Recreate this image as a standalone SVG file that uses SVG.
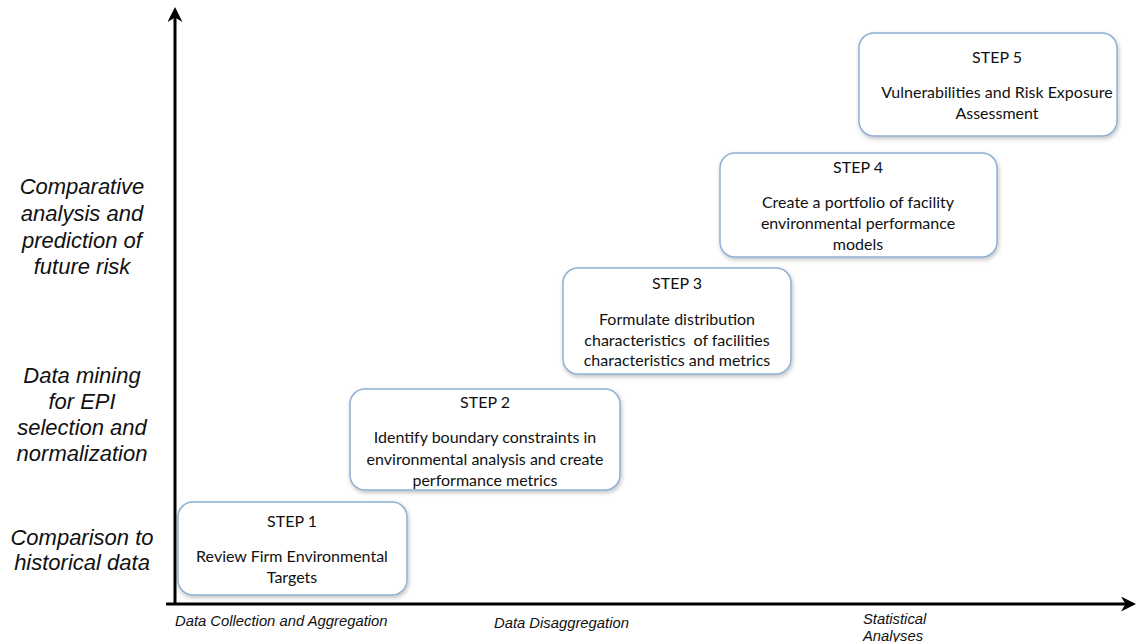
<svg xmlns="http://www.w3.org/2000/svg" width="1139" height="642" viewBox="0 0 1139 642">
  <defs>
    <marker id="arrow" viewBox="0 0 10 10" refX="8" refY="5" markerWidth="5" markerHeight="5" orient="auto" markerUnits="strokeWidth">
      <path d="M0,0 L10,5 L0,10 L3,5 z" fill="#000"/>
    </marker>
    <filter id="shadow" x="-10%" y="-10%" width="120%" height="130%">
      <feDropShadow dx="1" dy="2" stdDeviation="2" flood-color="#000" flood-opacity="0.25"/>
    </filter>
  </defs>
  <style>
    .box { fill: #fff; stroke: #8fb0d3; stroke-width: 1.5; filter: url(#shadow); }
    .step { font-family: Lato, "Open Sans", sans-serif; font-size: 16px; fill: #111; text-anchor: middle; }
    .ylab { font-family: "Liberation Sans", Arial, sans-serif; font-style: italic; font-size: 22px; fill: #111; text-anchor: middle; }
    .xlab { font-family: "Liberation Sans", Arial, sans-serif; font-style: italic; font-size: 14.8px; fill: #111; }
    .axis { stroke: #000; stroke-width: 3; fill: none; }
  </style>
  <rect width="1139" height="642" fill="#fff"/>

  <!-- axes -->
  <g id="connectors">
    <line class="axis" x1="175" y1="605" x2="175" y2="10" marker-end="url(#arrow)"/>
    <line class="axis" x1="166" y1="604" x2="1133" y2="604" marker-end="url(#arrow)"/>
  </g>

  <!-- vertical axis labels -->
  <g id="y-labels">
    <text class="ylab" x="82" y="194">Comparative</text>
    <text class="ylab" x="82" y="221">analysis and</text>
    <text class="ylab" x="82" y="248">prediction of</text>
    <text class="ylab" x="82" y="274">future risk</text>
    <text class="ylab" x="82" y="383">Data mining</text>
    <text class="ylab" x="82" y="409">for EPI</text>
    <text class="ylab" x="82" y="435">selection and</text>
    <text class="ylab" x="82" y="461">normalization</text>
    <text class="ylab" x="82" y="545">Comparison to</text>
    <text class="ylab" x="82" y="570">historical data</text>
  </g>

  <!-- horizontal axis labels -->
  <g id="x-labels">
    <text class="xlab" x="175" y="626">Data Collection and Aggregation</text>
    <text class="xlab" x="494" y="628">Data Disaggregation</text>
    <text class="xlab" x="863" y="624">Statistical</text>
    <text class="xlab" x="863" y="641">Analyses</text>
  </g>

  <g id="step1">
    <rect class="box" x="178" y="502" width="229" height="93" rx="15"/>
    <text class="step" x="292" y="527">STEP 1</text>
    <text class="step" x="292" y="562">Review Firm Environmental</text>
    <text class="step" x="292" y="583">Targets</text>
  </g>

  <g id="step2">
    <rect class="box" x="350" y="389" width="270" height="101" rx="15"/>
    <text class="step" x="485" y="408">STEP 2</text>
    <text class="step" x="485" y="443">Identify boundary constraints in</text>
    <text class="step" x="485" y="465">environmental analysis and create</text>
    <text class="step" x="485" y="486">performance metrics</text>
  </g>

  <g id="step3">
    <rect class="box" x="563" y="268" width="228" height="106" rx="15"/>
    <text class="step" x="677" y="289">STEP 3</text>
    <text class="step" x="677" y="325">Formulate distribution</text>
    <text class="step" x="677" y="346" xml:space="preserve">characteristics  of facilities</text>
    <text class="step" x="677" y="366">characteristics and metrics</text>
  </g>

  <g id="step4">
    <rect class="box" x="720" y="153" width="277" height="104" rx="15"/>
    <text class="step" x="858" y="173">STEP 4</text>
    <text class="step" x="858" y="208">Create a portfolio of facility</text>
    <text class="step" x="858" y="229">environmental performance</text>
    <text class="step" x="858" y="250">models</text>
  </g>

  <g id="step5">
    <rect class="box" x="859" y="33" width="258" height="103" rx="15"/>
    <text class="step" x="997" y="63">STEP 5</text>
    <text class="step" x="997" y="98">Vulnerabilities and Risk Exposure</text>
    <text class="step" x="997" y="119">Assessment</text>
  </g>
</svg>
